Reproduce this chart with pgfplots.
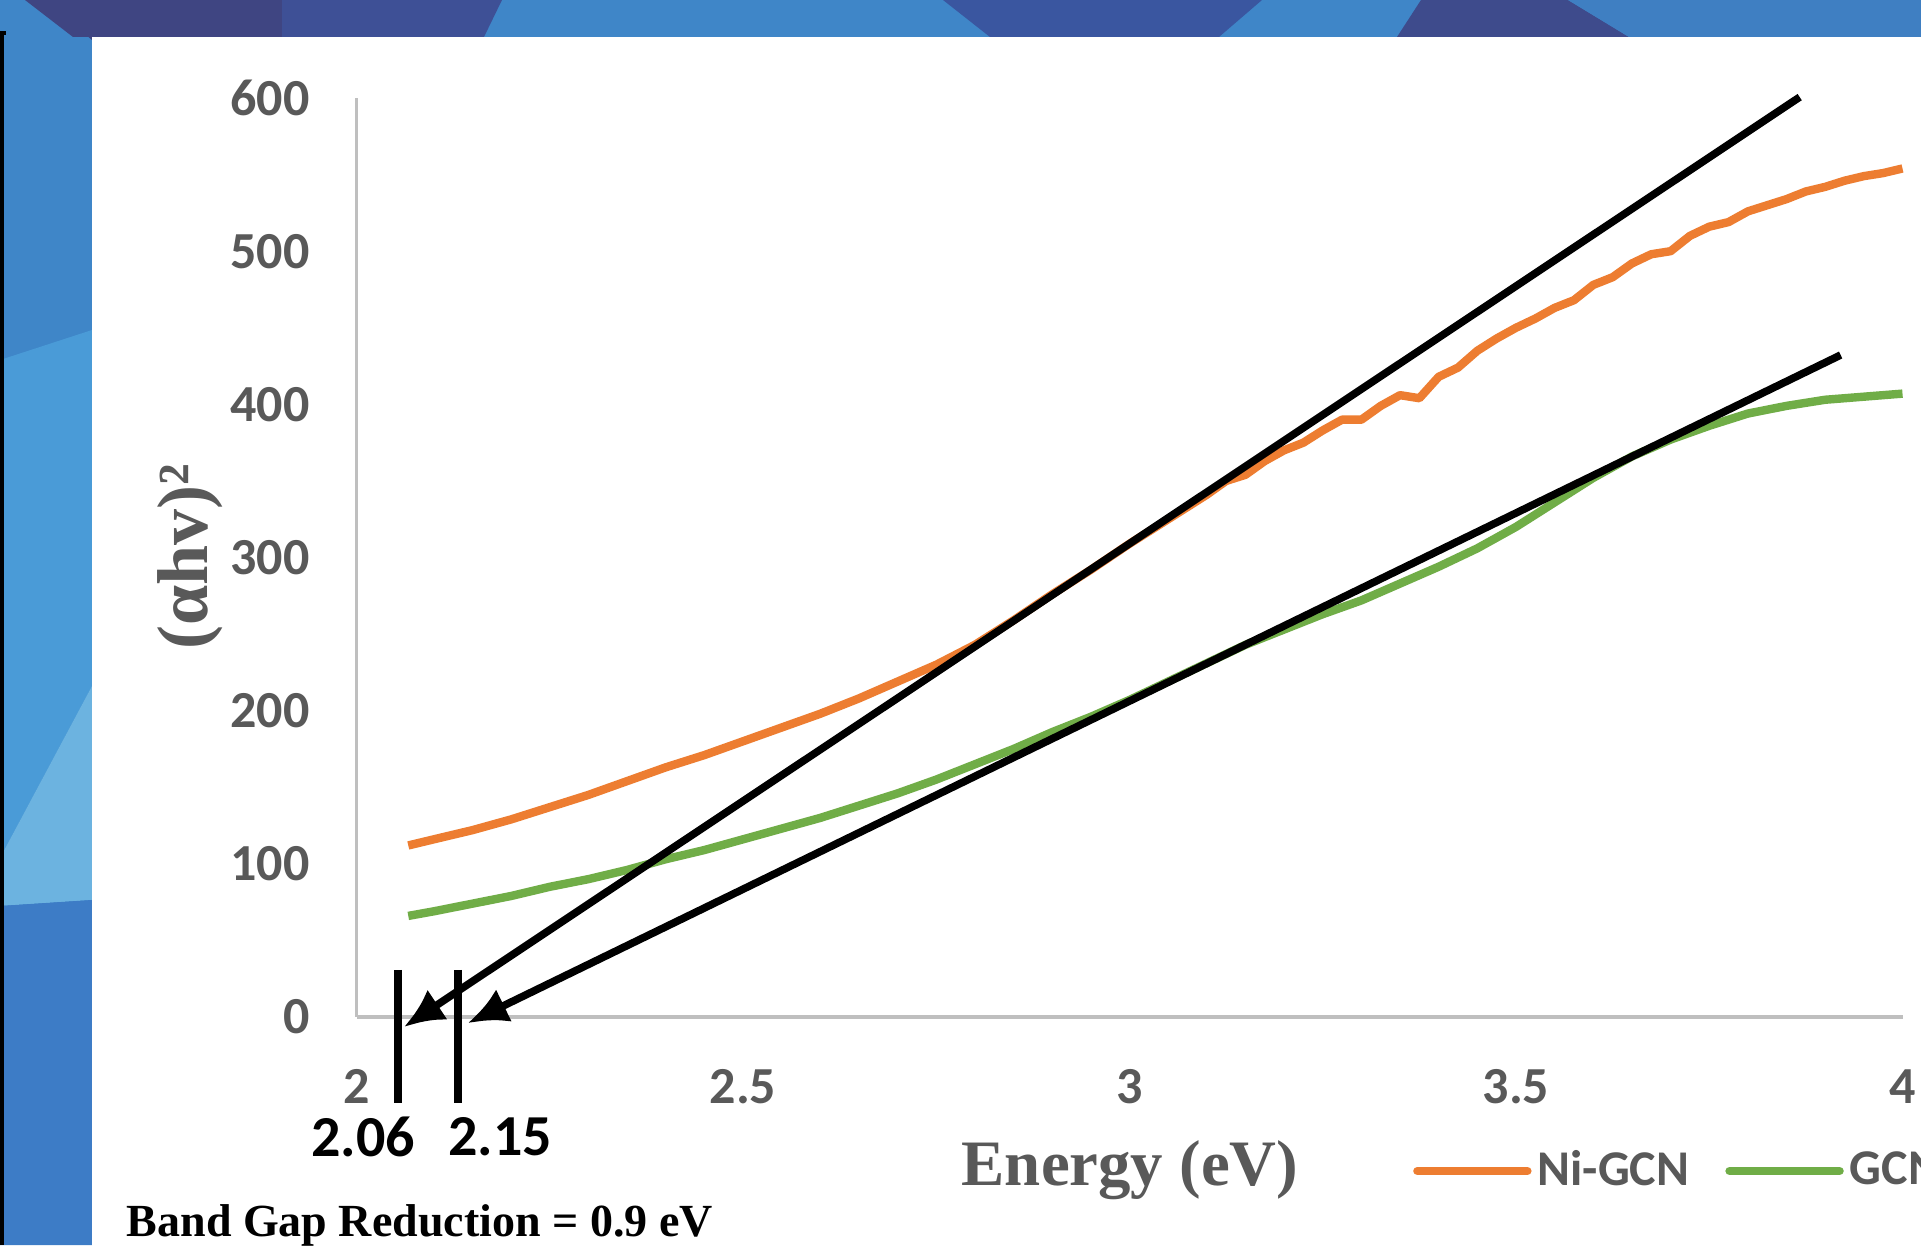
\documentclass[border=0pt]{standalone}
\usepackage{fontspec}
\usepackage{pgfplots}
\pgfplotsset{compat=1.18}
\usetikzlibrary{arrows.meta}
\setsansfont{Carlito}
\newfontfamily\serifb{Liberation Serif}
\definecolor{orangeNi}{HTML}{ED7D31}
\definecolor{greenG}{HTML}{70AD47}
\definecolor{txtgray}{HTML}{595959}
\definecolor{axgray}{HTML}{BFBFBF}
\definecolor{bgbase}{HTML}{3F86C8}
\definecolor{bgpurple}{HTML}{3F4582}
\definecolor{bgviolet}{HTML}{3E5096}
\definecolor{bgdark}{HTML}{3A56A0}
\definecolor{bgpurple2}{HTML}{3E4B8C}
\definecolor{bgright}{HTML}{3F7FC2}
\definecolor{bglight}{HTML}{4A9BD7}
\definecolor{bgpale}{HTML}{6CB3E0}
\definecolor{bgdeep}{HTML}{3D7CC6}
\begin{document}
\begin{tikzpicture}
\useasboundingbox (0,0) rectangle (480.25pt,311.25pt);
\clip (0,0) rectangle (480.25pt,311.25pt);
% background (full-pixel coordinates, y downward)
\begin{scope}[x=0.25pt,y=-0.25pt,shift={(0pt,311.25pt)}]
  \fill[bgbase] (0,0) rectangle (1921,1245);
  \fill[bgpurple] (25,0) -- (282,0) -- (282,37) -- (73,37) -- cycle;
  \fill[bgviolet] (282,0) -- (502,0) -- (484,37) -- (282,37) -- cycle;
  \fill[bgdark] (943,0) -- (1262,0) -- (1219,37) -- (990,37) -- cycle;
  \fill[bgpurple2] (1421,0) -- (1568,0) -- (1629,37) -- (1397,37) -- cycle;
  \fill[bgright] (1568,0) -- (1921,0) -- (1921,37) -- (1629,37) -- cycle;
  \fill[bgpurple] (45,0) -- (92,0) -- (92,40) -- cycle;
  \fill[bglight] (0,360) -- (92,330) -- (92,686) -- (0,858) -- cycle;
  \fill[bgpale] (0,858) -- (92,686) -- (92,900) -- (0,906) -- cycle;
  \fill[bgdeep] (0,906) -- (92,900) -- (92,1245) -- (0,1245) -- cycle;
  \fill[white] (92,37) rectangle (1921,1245);
  \draw[black, line width=1pt] (2,1245) -- (2,33) -- (6,33);
\end{scope}

\begin{axis}[
  at={(89.125pt,57pt)}, anchor=south west,
  scale only axis, width=386.5pt, height=229.75pt,
  xmin=2, xmax=4, ymin=0, ymax=600,
  enlargelimits=false, clip=false,
  axis x line=bottom, axis y line=left,
  axis line style={-, draw=axgray, line width=0.8pt},
  major tick length=0pt,
  xtick={2,2.5,3,3.5,4}, ytick={0,100,...,600},
  /pgf/number format/assume math mode=true,
  ticklabel style={font=\sffamily\bfseries\fontsize{13}{15}\selectfont, text=txtgray},
  xticklabel style={inner sep=0pt, anchor=north, yshift=-13pt},
  yticklabel style={inner sep=0pt, anchor=east, xshift=-11.5pt},
  legend style={at={(0.6835,-0.1676)}, anchor=west, draw=none, fill=none,
    inner sep=0pt, outer sep=0pt, legend columns=2,
    font=\sffamily\bfseries\fontsize{12.5}{14}\selectfont, text=txtgray,
    nodes={inner sep=0pt},
    /tikz/every odd column/.append style={column sep=1.5pt},
    /tikz/every even column/.append style={column sep=9pt}},
  legend image code/.code={\draw[#1, line cap=round] (0pt,0pt) -- (27.5pt,0pt);},
]
\addplot[orangeNi, line width=2.1pt, line join=round] table {
2.067 112
2.10 116
2.15 122
2.20 129
2.25 137
2.30 145
2.35 154
2.40 163
2.45 171
2.50 180
2.55 189
2.60 198
2.65 208
2.70 219
2.75 230
2.80 243
2.85 259
2.90 276
2.95 292
3.00 309
3.05 325
3.10 341
3.125 350
3.15 354
3.175 363
3.20 370
3.225 375
3.25 383
3.275 390
3.30 390
3.325 399
3.35 406
3.375 404
3.40 418
3.425 424
3.45 435
3.475 443
3.50 450
3.525 456
3.55 463
3.575 468
3.60 478
3.625 483
3.65 492
3.675 498
3.70 500
3.725 510
3.75 516
3.775 519
3.80 526
3.825 530
3.85 534
3.875 539
3.90 542
3.925 546
3.95 549
3.975 551
4.00 554
};
\addlegendentry{Ni-GCN}
\addplot[greenG, line width=2.1pt, line join=round] table {
2.067 66
2.10 69
2.15 74
2.20 79
2.25 85
2.30 90
2.35 96
2.40 103
2.45 109
2.50 116
2.55 123
2.60 130
2.65 138
2.70 146
2.75 155
2.80 165
2.85 175
2.90 186
2.95 196
3.00 207
3.05 219
3.10 231
3.15 243
3.20 253
3.25 263
3.30 272
3.35 283
3.40 294
3.45 306
3.50 320
3.55 336
3.60 352
3.65 366
3.70 377
3.75 386
3.80 394
3.85 399
3.90 403
3.95 405
4.00 407
};
\addlegendentry{GCN}
% tangent lines with arrows
\addplot[black, line width=1.9pt, -{Latex[length=10pt,width=9pt]}, forget plot] coordinates {(3.867,600.6) (2.0615,-6.5)};
\addplot[black, line width=1.9pt, -{Latex[length=10pt,width=9pt]}, forget plot] coordinates {(3.920,432.2) (2.144,-4)};
% vertical markers
\addplot[black, line width=1.9pt, forget plot] coordinates {(2.0537,30.7) (2.0537,-56.1)};
\addplot[black, line width=1.9pt, forget plot] coordinates {(2.1313,30.7) (2.1313,-56.1)};
\end{axis}

\node[font=\sffamily\bfseries\fontsize{14.5}{16}\selectfont, text=black] at (90.75pt,27pt) {2.06};
\node[font=\sffamily\bfseries\fontsize{14.5}{16}\selectfont, text=black] at (125pt,27pt) {2.15};
\node[font=\serifb\bfseries\fontsize{16.2}{18}\selectfont, text=txtgray] at (282.5pt,18.75pt) {Energy (eV)};
\node[font=\serifb\bfseries\fontsize{18}{20}\selectfont, text=txtgray, rotate=90] at (47.5pt,172pt) {(αhv)²};
\node[font=\serifb\bfseries\fontsize{11.5}{13}\selectfont, text=black, anchor=base west, inner sep=0pt] at (31.5pt,2pt) {Band Gap Reduction = 0.9 eV};
\end{tikzpicture}
\end{document}
